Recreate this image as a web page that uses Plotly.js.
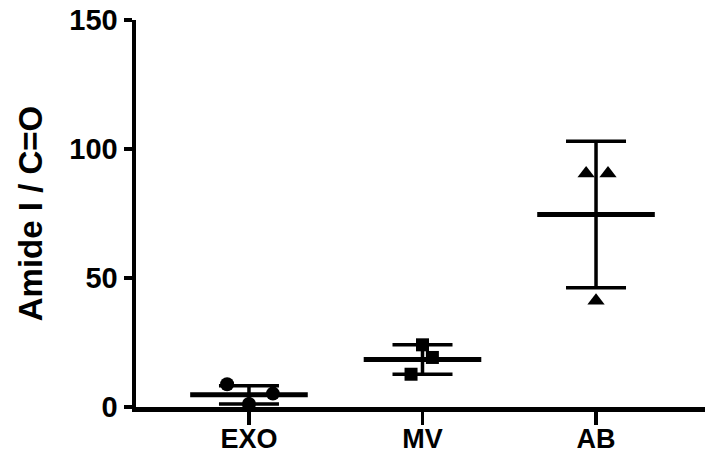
<!DOCTYPE html>
<html>
<head>
<meta charset="utf-8">
<script src="https://cdn.plot.ly/plotly-3.0.1.min.js"></script>
<style>html,body{margin:0;padding:0;background:#fff;}#chart{width:705px;height:458px;}</style>
</head>
<body>
<div id="chart"></div>
<script>
// Categories and tick labels
const categories = ['EXO', 'MV', 'AB'];
const categoryPos = [0, 1, 2];

// Individual replicate values
const exoValues = [8.8, 5.2, 1.2];
const mvValues = [24.1, 19.2, 12.7];
const abValues = [90.5, 90.5, 41.2];

// Horizontal scatter (jitter) of each replicate, in category units
const exoJitter = [-0.126, 0.138, 0.0];
const mvJitter = [0.0, 0.057, -0.066];
const abJitter = [-0.057, 0.069, 0.0];

// Mean and SD (as drawn)
const means = [4.7, 18.4, 74.6];
const sds = [3.5, 5.7, 28.4];

function shift(pos, jit) { return jit.map(j => pos + j); }

const pointTrace = (pos, jit, vals, symbol, size) => ({
  type: 'scatter', mode: 'markers',
  x: shift(pos, jit), y: vals,
  marker: {symbol: symbol, size: size, color: '#000'},
  cliponaxis: false, showlegend: false, hoverinfo: 'y'
});

const data = [
  {
    type: 'scatter', mode: 'markers',
    x: categoryPos, y: means,
    marker: {symbol: 'line-ew', size: 84, color: '#000', line: {color: '#000', width: 5}},
    error_y: {type: 'data', array: sds, visible: true, color: '#000', thickness: 3.5, width: 30},
    cliponaxis: false, showlegend: false, hoverinfo: 'y'
  },
  pointTrace(categoryPos[0], exoJitter, exoValues, 'circle', 14),
  pointTrace(categoryPos[1], mvJitter, mvValues, 'square', 13),
  pointTrace(categoryPos[2], abJitter, abValues, 'triangle-up', 15)
];

const layout = {
  width: 705, height: 458,
  margin: {l: 136, r: 0, t: 20, b: 51},
  paper_bgcolor: '#fff', plot_bgcolor: '#fff',
  font: {family: '"Liberation Sans", Arial, sans-serif', color: '#000'},
  showlegend: false,
  xaxis: {
    range: [-0.651, 2.628],
    tickmode: 'array', tickvals: categoryPos, ticktext: categories.map(c => '<b>' + c + '</b>'),
    showgrid: false, zeroline: false,
    showline: true, linecolor: '#000', linewidth: 4.5,
    ticks: 'outside', ticklen: 13, tickwidth: 3.5, tickcolor: '#000',
    ticklabelstandoff: -9,
    tickfont: {size: 27, color: '#000'}
  },
  yaxis: {
    range: [0, 150],
    tickvals: [0, 50, 100, 150], ticktext: ['<b>0</b>', '<b>50</b>', '<b>100</b>', '<b>150</b>'],
    showgrid: false, zeroline: false,
    showline: true, linecolor: '#000', linewidth: 4.5,
    ticks: 'outside', ticklen: 8, tickwidth: 3.5, tickcolor: '#000',
    tickfont: {size: 29, color: '#000'},
    title: {text: '<b>Amide I / C=O</b>', font: {size: 33, color: '#000'}, standoff: 18}
  }
};

Plotly.newPlot('chart', data, layout, {displayModeBar: false, staticPlot: true});
</script>
</body>
</html>
